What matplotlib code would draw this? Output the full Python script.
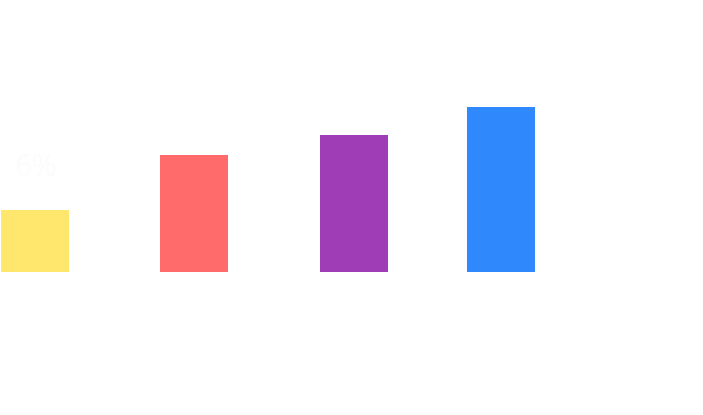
import numpy as np
from matplotlib import pyplot as plt

categories = ['A', 'B', 'C', 'D']
values = [6.0, 11.3, 13.25, 15.95]
labels = ['6%', '', '', '']
colors = ['#FFE66D', '#FF6B6B', '#9E3DB5', '#3088FD']

# bar centres in pixel space (layout only)
x_pos = [35, 194, 354, 501]
bar_w = 68
px_per_unit = 62 / 6.0
base_px = 415 - 272

fig = plt.figure(figsize=(7.03, 4.15), dpi=100)
ax = fig.add_axes([0, 0, 1, 1])
ax.bar(x_pos, values, width=bar_w, color=colors, linewidth=0)
ax.set_xlim(0, 703)
ax.set_ylim(-base_px / px_per_unit, (415 - base_px) / px_per_unit)
ax.axis('off')

for x, v, lab in zip(x_pos, values, labels):
    if lab:
        ax.text(x + 1, v + 27 / px_per_unit, lab, ha='center', va='bottom',
                fontsize=22, color='#fcfcfc', family='Open Sans')

plt.savefig('out.png', dpi=100)
